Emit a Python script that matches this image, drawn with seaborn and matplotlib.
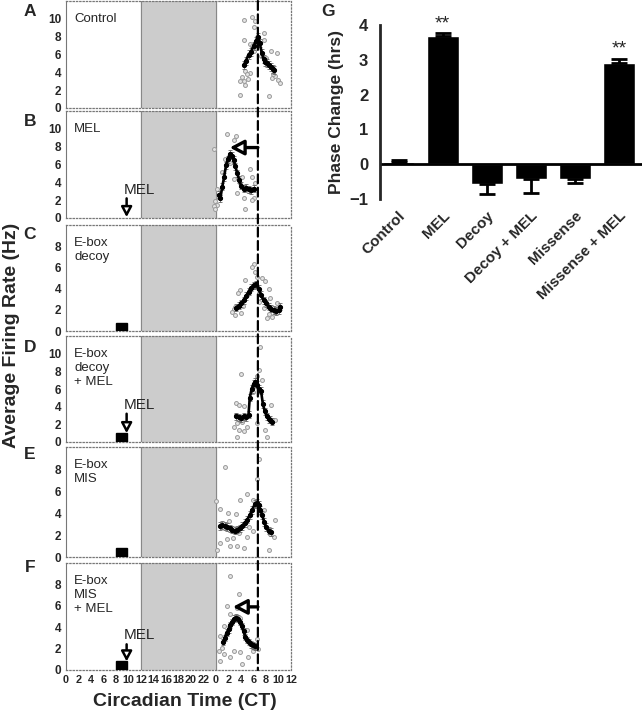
import numpy as np
import pandas as pd
import matplotlib
matplotlib.use("Agg")
import matplotlib.pyplot as plt
from matplotlib.patches import Rectangle, ConnectionPatch
import seaborn as sns

# =====================================
#   Datos
# =====================================

# hora de referencia del pico control (CT 6.7 del segundo dia)
pico_control = 30.7

# --- A: Control ---
a_t = [28.4, 28.8, 29.2, 29.6, 30.0, 30.4, 30.7, 31.0, 31.3, 31.6, 31.9, 32.2, 32.5, 32.8, 33.1, 33.3]
a_fr = [4.8, 5.3, 6.0, 6.3, 7.0, 7.5, 8.0, 7.3, 6.2, 5.5, 5.2, 5.0, 4.8, 4.6, 4.4, 4.3]
a_pt_t = [28.4, 29.7, 30.2, 30.1, 31.7, 28.5, 29.4, 32.8, 33.7, 28.6, 29.4, 28.9, 28.1, 27.8, 28.5,
          29.1, 28.7, 27.8, 32.4, 32.9, 33.4, 33.9, 34.3, 33.1, 31.6, 30.5, 30.0, 31.2, 32.0, 29.8]
a_pt_fr = [9.9, 10.2, 9.8, 9.1, 8.4, 7.6, 7.2, 6.4, 6.2, 4.2, 3.95, 3.8, 3.5, 3.0, 3.0,
           3.2, 2.6, 1.5, 1.3, 3.4, 3.6, 3.1, 2.8, 3.8, 7.6, 7.95, 6.4, 5.8, 5.6, 6.9]

# --- B: MEL ---
b_t = [24.4, 24.7, 25.0, 25.3, 25.6, 25.9, 26.2, 26.5, 26.8, 27.1, 27.4, 27.7, 28.0, 28.4, 28.8, 29.2, 29.6, 30.0]
b_fr = [2.6, 2.2, 3.5, 4.6, 5.9, 6.6, 7.2, 7.0, 6.5, 5.8, 5.0, 4.3, 3.6, 3.3, 3.4, 3.2, 3.1, 3.3]
b_pt_t = [25.8, 27.2, 26.8, 23.6, 25.5, 26.3, 29.4, 28.1, 29.7, 26.8, 30.2, 24.1, 27.3, 28.4, 30.0,
          23.8, 24.2, 23.6, 28.6, 23.8, 29.7, 24.3, 29.1, 25.0, 27.8]
b_pt_fr = [9.4, 9.2, 8.8, 7.7, 6.6, 6.2, 5.5, 4.6, 4.6, 4.4, 3.9, 3.2, 2.8, 2.2, 2.2,
           1.9, 1.5, 1.3, 1.0, 1.0, 2.0, 2.4, 3.0, 5.2, 3.9]

# --- C: E-box decoy ---
c_t = [27.2, 27.6, 28.0, 28.4, 28.8, 29.2, 29.6, 30.0, 30.4, 30.8, 31.2, 31.6, 32.0, 32.4, 32.8, 33.2, 33.6, 34.0, 34.2]
c_fr = [2.2, 2.4, 2.6, 2.9, 3.3, 3.7, 4.1, 4.3, 4.4, 4.0, 3.4, 2.9, 2.6, 2.3, 2.1, 2.0, 1.9, 2.0, 2.3]
c_pt_t = [30.1, 29.8, 30.3, 30.5, 31.3, 31.8, 28.6, 27.8, 29.4, 27.5, 32.4, 32.6, 27.0, 26.8, 26.5,
          27.0, 28.0, 31.6, 32.4, 32.9, 32.1, 33.4, 30.9, 29.0, 33.8, 28.3]
c_pt_fr = [6.3, 6.0, 5.6, 5.1, 5.0, 4.7, 4.8, 3.9, 3.9, 3.6, 4.0, 3.1, 2.3, 2.1, 1.8,
           1.5, 1.7, 2.2, 1.6, 1.3, 1.2, 1.8, 2.7, 3.4, 2.6, 2.4]

# --- D: E-box decoy + MEL ---
d_t = [27.2, 27.6, 28.0, 28.4, 28.8, 29.2, 29.4, 29.7, 30.0, 30.3, 30.6, 30.9, 31.2, 31.5, 31.8, 32.1, 32.4, 32.7, 32.9]
d_fr = [2.9, 2.8, 2.7, 2.9, 2.8, 3.1, 5.0, 6.0, 6.6, 6.8, 6.5, 6.0, 5.8, 4.3, 3.5, 2.9, 2.6, 2.5, 2.3]
d_pt_t = [31.0, 28.0, 30.5, 27.2, 27.7, 28.5, 32.8, 27.2, 27.4, 28.2, 26.9, 27.7, 28.5, 27.4, 29.0,
          33.4, 31.8, 32.1, 30.6, 29.9, 30.8, 31.4]
d_pt_fr = [10.7, 7.7, 7.5, 4.4, 4.2, 4.1, 4.2, 3.1, 2.1, 2.3, 1.7, 1.4, 1.2, 0.6, 1.7,
           2.5, 1.4, 0.6, 2.2, 5.7, 8.2, 7.0]

# --- E: E-box MIS ---
e_t = [24.6, 25.0, 25.4, 25.8, 26.2, 26.6, 27.0, 27.4, 27.8, 28.2, 28.6, 29.0, 29.4, 29.8, 30.2, 30.5,
       30.8, 31.1, 31.4, 31.7, 32.0, 32.4, 32.8]
e_fr = [2.8, 2.9, 2.8, 2.7, 2.6, 2.5, 2.4, 2.5, 2.6, 2.8, 3.1, 3.4, 3.8, 4.3, 4.8, 4.9,
        4.7, 4.3, 3.8, 3.2, 2.7, 2.4, 2.3]
e_pt_t = [25.4, 30.9, 30.5, 28.9, 27.8, 29.9, 24.0, 24.6, 25.9, 27.2, 31.6, 33.4, 25.7, 26.7, 26.2,
          27.3, 28.4, 24.6, 24.2, 28.9, 29.9, 32.4, 33.2, 32.6, 29.2, 27.6, 26.0, 31.2]
e_pt_fr = [8.2, 8.9, 7.1, 5.7, 5.2, 5.2, 5.1, 4.4, 4.0, 3.9, 4.3, 3.4, 1.6, 1.7, 1.0,
           1.0, 0.8, 1.3, 0.6, 1.8, 2.4, 0.6, 1.8, 2.1, 2.7, 2.2, 3.3, 3.9]

# --- F: E-box MIS + MEL ---
f_t = [25.1, 25.4, 25.7, 26.0, 26.3, 26.6, 26.9, 27.2, 27.5, 27.8, 28.1, 28.4, 28.7, 29.0, 29.3, 29.6, 29.9, 30.2]
f_fr = [2.6, 3.0, 3.5, 3.8, 4.2, 4.5, 4.8, 4.9, 4.8, 4.5, 4.1, 3.6, 3.1, 2.8, 2.6, 2.4, 2.3, 2.2]
f_pt_t = [26.3, 27.7, 25.7, 27.3, 26.2, 27.9, 24.6, 24.9, 24.4, 25.3, 24.6, 26.8, 26.2, 27.8, 29.1,
          28.1, 29.9, 30.7, 30.5, 28.9, 25.2, 29.5]
f_pt_fr = [8.8, 7.1, 6.0, 5.8, 5.2, 4.9, 3.2, 2.1, 1.8, 1.5, 0.8, 1.8, 1.2, 1.7, 1.2,
           0.6, 1.8, 2.0, 2.9, 3.7, 4.1, 2.4]

# error estandar aproximado de cada curva
sem_paneles = [0.45, 0.4, 0.35, 0.4, 0.35, 0.3]

# --- G: cambio de fase ---
grupos = ["Control", "MEL", "Decoy", "Decoy + MEL", "Missense", "Missense + MEL"]
cambio_fase = [0.05, 3.68, -0.58, -0.43, -0.43, 2.91]
error_fase = [0.08, 0.08, 0.27, 0.39, 0.10, 0.12]
significativo = [False, True, False, False, False, True]

# =====================================
#   Figura
# =====================================

sns.set_style("white")
plt.rcParams['font.family'] = ['Liberation Sans', 'DejaVu Sans']

W, H = 642, 714
fig = plt.figure(figsize=(W / 100, H / 100), dpi=100)


def caja(x0, y0, x1, y1):
    # rectangulo en pixeles -> coordenadas de figura
    return [x0 / W, 1 - y1 / H, (x1 - x0) / W, (y1 - y0) / H]


paneles = [
    ("A", a_t, a_fr, a_pt_t, a_pt_fr, "Control", 12, (1, 108)),
    ("B", b_t, b_fr, b_pt_t, b_pt_fr, "MEL", 12, (111, 218)),
    ("C", c_t, c_fr, c_pt_t, c_pt_fr, "E-box\ndecoy", 10, (225, 331)),
    ("D", d_t, d_fr, d_pt_t, d_pt_fr, "E-box\ndecoy\n+ MEL", 12, (336, 442)),
    ("E", e_t, e_fr, e_pt_t, e_pt_fr, "E-box\nMIS", 10, (447, 557)),
    ("F", f_t, f_fr, f_pt_t, f_pt_fr, "E-box\nMIS\n+ MEL", 10, (563, 670)),
]

ejes = []
for i, (letra, t, fr, pt_t, pt_fr, rotulo, ymax, (y0, y1)) in enumerate(paneles):
    ax = fig.add_axes(caja(66, y0, 291, y1))
    ejes.append(ax)

    # noche subjetiva
    ax.axvspan(12, 24, color="#cccccc", zorder=0)
    ax.axvline(12, color="#888888", lw=0.8, zorder=1)
    ax.axvline(24, color="#888888", lw=0.8, zorder=1)

    sns.scatterplot(x=pt_t, y=pt_fr, ax=ax, marker="o", s=8, facecolor="#e4e4e4",
                    edgecolor="#9a9a9a", linewidth=0.7, zorder=2)
    ax.errorbar(t, fr, yerr=sem_paneles[i], fmt="none", ecolor="#666666",
                elinewidth=0.6, capsize=1.5, capthick=0.6, zorder=3)
    sns.lineplot(x=t, y=fr, ax=ax, color="black", lw=1.9, marker="o",
                 markersize=3, markeredgecolor="black", zorder=4)

    ax.set_xlim(0, 36)
    ax.set_ylim(0, ymax)
    ax.set_yticks(range(0, 11 if ymax == 12 else 9, 2))
    ax.set_xticks(range(0, 37, 2))
    ax.set_xticks(range(0, 37, 1), minor=True)
    ax.tick_params(axis="both", which="both", direction="out", length=2,
                   width=0.6, color="#666666", pad=1.5)
    ax.tick_params(axis="x", which="minor", length=1.2)
    for lab in ax.get_yticklabels():
        lab.set_fontweight("bold")
        lab.set_fontsize(8.5)
    if letra == "F":
        ax.set_xticklabels([str(h if h < 24 else h - 24) for h in range(0, 37, 2)],
                           fontsize=7.8, fontweight="bold")
    else:
        ax.set_xticklabels([])

    for lado in ["top", "right", "bottom"]:
        ax.spines[lado].set_linestyle(":")
        ax.spines[lado].set_color("#777777")
        ax.spines[lado].set_linewidth(0.9)
    ax.spines["left"].set_color("#777777")
    ax.spines["left"].set_linewidth(0.8)

    ax.text(1.3, ymax * 0.89, rotulo, fontsize=9.5,
            va="top", ha="left", linespacing=1.25)

    # tratamiento (caja negra)
    if letra in ["C", "D", "E", "F"]:
        alto = 1.0 if ymax == 12 else 0.8
        ax.add_patch(Rectangle((8.0, 0), 1.8, alto, color="black", zorder=5))

    ax.set_xlabel("")
    ax.set_ylabel("")

# letras de panel
letras_y = [12, 122, 235, 347, 455, 567]
for (letra, *_), yl in zip(paneles, letras_y):
    fig.text(30 / W, 1 - yl / H, letra, fontsize=12.5, fontweight="bold", va="center", ha="center")

# flechas de MEL
axB, axD, axF = ejes[1], ejes[3], ejes[5]
flecha = dict(arrowstyle="-|>,head_length=0.6,head_width=0.32", fc="white", ec="black",
              lw=1.8, shrinkA=0, shrinkB=0)
for ax, (ya, yb), ytxt in [(axB, (2.2, 0.1), 2.4), (axD, (3.2, 1.0), 3.4), (axF, (2.4, 0.8), 2.6)]:
    ax.annotate("", xy=(9.7, yb), xytext=(9.7, ya), arrowprops=flecha, zorder=6)
    ax.text(9.3, ytxt, "MEL", fontsize=11, ha="left", va="bottom")

# avance de fase (flechas horizontales)
flecha_h = dict(arrowstyle="-|>,head_length=0.85,head_width=0.45", fc="white", ec="black",
                lw=2.4, shrinkA=0, shrinkB=0)
axB.annotate("", xy=(26.2, 7.9), xytext=(pico_control, 7.9), arrowprops=flecha_h, zorder=6)
axF.annotate("", xy=(26.7, 5.9), xytext=(pico_control, 5.9), arrowprops=flecha_h, zorder=6)

# linea discontinua del pico control a traves de todos los paneles
linea = ConnectionPatch(xyA=(pico_control, 12), coordsA=ejes[0].transData,
                        xyB=(pico_control, 0), coordsB=ejes[5].transData,
                        ls=(0, (4, 2)), lw=1.6, color="black", zorder=10)
fig.add_artist(linea)

fig.text(12 / W, 1 - 335 / H, "Average Firing Rate (Hz)", rotation=90, fontsize=14,
         fontweight="bold", va="center", ha="center")
fig.text(185 / W, 1 - 702 / H, "Circadian Time (CT)", fontsize=14,
         fontweight="bold", va="center", ha="center")

# --- G ---
axG = fig.add_axes(caja(380, 25, 642, 199))
datos_g = pd.DataFrame({"grupo": grupos, "cambio": cambio_fase})
sns.barplot(data=datos_g, x="grupo", y="cambio", color="black", width=0.72,
            errorbar=None, ax=axG, saturation=1)
# error solo hacia afuera
signo = np.sign(cambio_fase)
axG.errorbar(range(len(grupos)), cambio_fase, yerr=[np.where(signo < 0, error_fase, 0),
             np.where(signo >= 0, error_fase, 0)], fmt="none", ecolor="black",
             elinewidth=2, capsize=6, capthick=2)
for i, s in enumerate(significativo):
    if s:
        axG.text(i, cambio_fase[i] + error_fase[i] + 0.03, "**", ha="center", va="bottom",
                 fontsize=14)
axG.axhline(0, color="black", lw=2)
axG.set_xlim(-0.42, 5.52)
axG.set_ylim(-1, 4)
axG.set_yticks(range(-1, 5))
sns.despine(ax=axG, bottom=True)
axG.spines["left"].set_linewidth(2)
axG.tick_params(axis="y", length=5, width=2, labelsize=12)
axG.tick_params(axis="x", length=0, pad=7)
axG.set_xticks(range(len(grupos)))
axG.set_xticklabels(grupos, rotation=45, ha="right", rotation_mode="anchor",
                    fontsize=11, fontweight="bold")
for lab in axG.get_yticklabels():
    lab.set_fontweight("bold")
axG.set_xlabel("")
axG.set_ylabel("Phase Change (hrs)", fontsize=12.5, fontweight="bold", labelpad=4)
fig.text(328 / W, 1 - 12 / H, "G", fontsize=12.5, fontweight="bold", va="center", ha="center")

fig.savefig("out.png", dpi=100)
